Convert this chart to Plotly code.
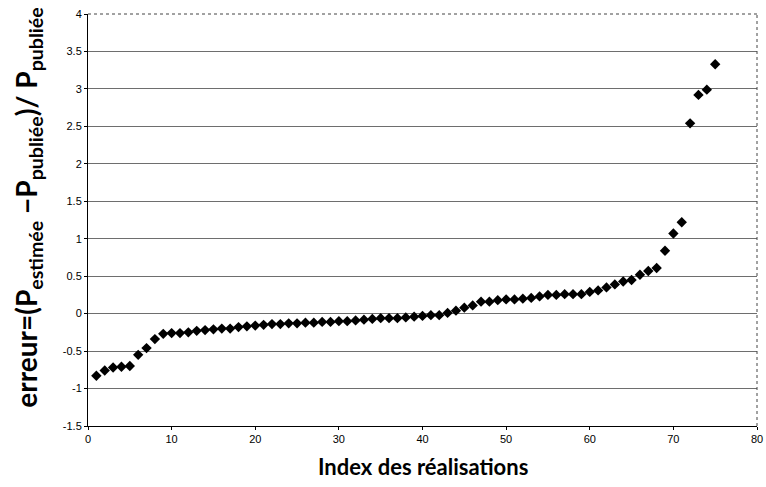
import plotly.graph_objects as go

index_vals = list(range(1, 76))
erreur = [
    -0.83, -0.76, -0.72, -0.71, -0.70, -0.55, -0.46, -0.34, -0.27, -0.26,
    -0.26, -0.25, -0.23, -0.22, -0.21, -0.20, -0.20, -0.18, -0.17, -0.16,
    -0.15, -0.14, -0.14, -0.13, -0.13, -0.12, -0.12, -0.11, -0.11, -0.10,
    -0.10, -0.09, -0.08, -0.07, -0.06, -0.06, -0.06, -0.05, -0.04, -0.03,
    -0.02, -0.02, 0.01, 0.04, 0.08, 0.11, 0.16, 0.16, 0.18, 0.19,
    0.19, 0.20, 0.21, 0.23, 0.25, 0.25, 0.26, 0.26, 0.26, 0.29,
    0.31, 0.35, 0.39, 0.43, 0.45, 0.52, 0.57, 0.61, 0.84, 1.07,
    1.22, 2.54, 2.92, 2.99, 3.33,
]
x_ticks = [0, 10, 20, 30, 40, 50, 60, 70, 80]
y_ticks = [-1.5, -1, -0.5, 0, 0.5, 1, 1.5, 2, 2.5, 3, 3.5, 4]
y_ticktext = ["-1.5", "-1", "-0.5", "0", "0.5", "1", "1.5", "2", "2.5", "3", "3.5", "4"]
x_title = "Index des réalisations"
y_title = "erreur=(P<sub>estimée</sub> −P<sub>publiée</sub>)/ P<sub>publiée</sub>"

fig = go.Figure()
fig.add_trace(go.Scatter(
    x=index_vals, y=erreur, mode="markers",
    marker=dict(symbol="diamond", size=8, color="black"),
    showlegend=False,
))

fig.update_layout(
    width=766, height=487,
    margin=dict(l=88, r=9, t=14, b=61, autoexpand=False),
    paper_bgcolor="white", plot_bgcolor="white",
    font=dict(family="Liberation Sans, Arial", size=10, color="black"),
    xaxis=dict(
        range=[0, 80], tickvals=x_ticks, ticktext=[str(v) for v in x_ticks],
        showgrid=False, zeroline=False, showline=True, linecolor="black", linewidth=1,
        ticks="outside", ticklen=3, tickcolor="black",
        tickfont=dict(size=11), automargin=False, ticklabeloverflow="allow",
    ),
    yaxis=dict(
        range=[-1.5, 4], tickvals=y_ticks, ticktext=y_ticktext,
        showgrid=True, gridcolor="#6e6e6e", gridwidth=1,
        zeroline=False, showline=True, linecolor="black", linewidth=1,
        ticks="outside", ticklen=3, tickcolor="black",
        tickfont=dict(size=11), automargin=False,
    ),
)
fig.add_annotation(
    text="<b>" + x_title + "</b>", xref="paper", yref="paper",
    x=0.5, y=0, yshift=-40, yanchor="middle", showarrow=False,
    font=dict(family="Lato, Open Sans", size=22, color="black"),
)
fig.add_annotation(
    text="<b>" + y_title + "</b>", xref="paper", yref="paper",
    x=0, xshift=-60, y=0.53, xanchor="center", yanchor="middle",
    textangle=-90, showarrow=False,
    font=dict(family="Lato, Open Sans", size=28, color="black"),
)
# dashed top and right borders of plot area
fig.add_shape(type="line", xref="paper", yref="paper", x0=0, x1=1, y0=1, y1=1,
              line=dict(color="#444", width=1, dash="dot"))
fig.add_shape(type="line", xref="paper", yref="paper", x0=1, x1=1, y0=0, y1=1,
              line=dict(color="#444", width=1, dash="dot"))

fig.write_html("out.html", config={"displayModeBar": False},
               post_script="document.body.style.margin='0';")
